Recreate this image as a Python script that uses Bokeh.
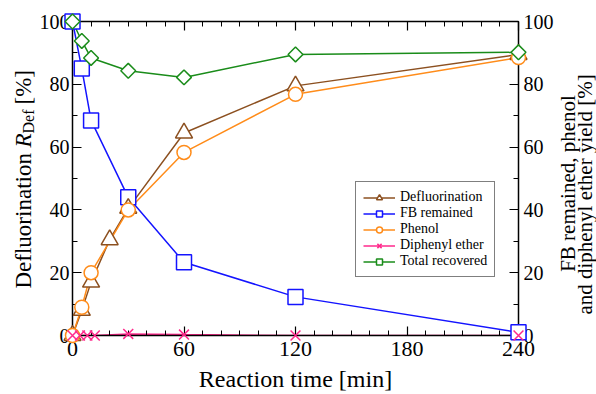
import numpy as np
from bokeh.plotting import figure
from bokeh.layouts import row
from bokeh.models import (LinearAxis, SingleIntervalTicker, Range1d, Label,
                          Legend, LegendItem, CustomJSTickFormatter)
from bokeh.embed import file_html
from bokeh.resources import INLINE

# ---------------- data ----------------
t_def = [0, 5, 10, 20, 30, 60, 120, 240]
defluorination = [0, 8, 17, 30.5, 40.5, 64.5, 79.5, 89.5]

t_main = [0, 5, 10, 30, 60, 120, 240]
fb_remained = [100, 85, 68.5, 44, 23.3, 12.3, 1]
phenol = [0, 9, 20, 40, 58.3, 76.8, 88.5]
total_recovered = [100, 93.8, 88.4, 84.3, 82.2, 89.5, 90.2]

t_dpe = [0, 4, 8, 12, 30, 60, 120, 240]
diphenyl_ether = [0, 0, 0, 0, 0.5, 0.3, 0, 0]

x_ticks_interval = 60
y_ticks_interval = 20

# ---------------- layout ----------------
H = 394
LEFT_W = 36
RIGHT_W = 40
MAIN_W = 596 - LEFT_W - RIGHT_W          # 520
FRAME_L, FRAME_R, FRAME_T, FRAME_B = 70, 519, 21, 335   # canvas pixels

FONT = "Liberation Serif"

p = figure(width=MAIN_W, height=H,
           x_range=Range1d(0, 240), y_range=Range1d(0, 100),
           x_axis_location=None, y_axis_location=None,
           toolbar_location=None, output_backend="svg",
           min_border_left=FRAME_L - LEFT_W,
           min_border_right=LEFT_W + MAIN_W - FRAME_R,
           min_border_top=FRAME_T, min_border_bottom=H - FRAME_B)
p.outline_line_color = None
p.grid.grid_line_color = None
p.background_fill_color = "white"
p.border_fill_color = "white"


def style_axis(ax, font_size, standoff):
    ax.axis_line_color = "black"
    ax.axis_line_width = 1.5
    ax.major_tick_line_color = "black"
    ax.minor_tick_line_color = "black"
    ax.major_tick_line_width = 1.2
    ax.minor_tick_line_width = 1.0
    ax.major_tick_in = 9
    ax.major_tick_out = 0
    ax.minor_tick_in = 5
    ax.minor_tick_out = 0
    ax.major_label_text_font = FONT
    ax.major_label_text_color = "black"
    ax.major_label_text_font_size = font_size
    ax.major_label_standoff = standoff


def x_ticker():
    return SingleIntervalTicker(interval=x_ticks_interval, num_minor_ticks=6)


def y_ticker():
    return SingleIntervalTicker(interval=y_ticks_interval, num_minor_ticks=2)


blank = CustomJSTickFormatter(code="return ''")

xb = LinearAxis(ticker=x_ticker())
style_axis(xb, "22px", 6)
xb.axis_label = "Reaction time [min]"
xb.axis_label_text_font = FONT
xb.axis_label_text_font_size = "24px"
xb.axis_label_text_font_style = "normal"
xb.axis_label_text_color = "black"
xb.axis_label_standoff = 7

xt = LinearAxis(ticker=x_ticker(), formatter=blank)
style_axis(xt, "8px", 0)

yl = LinearAxis(ticker=y_ticker())
style_axis(yl, "20px", 3)
yr = LinearAxis(ticker=y_ticker())
style_axis(yr, "20px", 5)

p.add_layout(xb, "below")
p.add_layout(xt, "above")
p.add_layout(yl, "left")
p.add_layout(yr, "right")

# ---------------- series ----------------
BROWN = "#8c5020"
BLUE = "#1414ff"
ORANGE = "#ff8c1a"
PINK = "#ff2a8c"
GREEN = "#1a8c1a"
LW = 1.5

l_fb = p.line(t_main, fb_remained, line_color=BLUE, line_width=LW)
s_fb = p.scatter(t_main, fb_remained, marker="square", size=15, line_color=BLUE,
                 fill_color="white", line_width=LW, level="overlay")

l_def = p.line(t_def, defluorination, line_color=BROWN, line_width=LW)
s_def = p.scatter(t_def, defluorination, marker="triangle", size=17, line_color=BROWN,
                  fill_color="white", line_width=LW, level="overlay")

l_ph = p.line(t_main, phenol, line_color=ORANGE, line_width=LW)
s_ph = p.scatter(t_main, phenol, marker="circle", size=14, line_color=ORANGE,
                 fill_color="white", line_width=LW, level="overlay")

l_dpe = p.line(t_dpe, diphenyl_ether, line_color=PINK, line_width=LW)
s_dpe = p.scatter(t_dpe, diphenyl_ether, marker="x", size=14, line_color=PINK,
                  line_width=LW, level="overlay")

l_tot = p.line(t_main, total_recovered, line_color=GREEN, line_width=LW)
s_tot = p.scatter(t_main, total_recovered, marker="square", angle=np.pi / 4, size=10.5,
                  line_color=GREEN, fill_color="white", line_width=LW, level="overlay")

# ---------------- legend ----------------
legend = Legend(items=[
    LegendItem(label="Defluorination", renderers=[l_def, s_def]),
    LegendItem(label="FB remained", renderers=[l_fb, s_fb]),
    LegendItem(label="Phenol", renderers=[l_ph, s_ph]),
    LegendItem(label="Diphenyl ether", renderers=[l_dpe, s_dpe]),
    LegendItem(label="Total recovered", renderers=[l_tot, s_tot]),
], location=(353 - FRAME_L, FRAME_B - 277))
legend.padding = 7
legend.spacing = 0
legend.margin = 0
legend.glyph_height = 15
legend.glyph_width = 32
legend.label_height = 15
legend.label_standoff = 5
legend.label_text_font = FONT
legend.label_text_font_size = "14px"
legend.label_text_color = "black"
legend.border_line_color = "black"
legend.border_line_width = 1
legend.background_fill_color = "white"
legend.background_fill_alpha = 1
p.add_layout(legend)


# ---------------- side title strips ----------------
def strip(width):
    f = figure(width=width, height=H, x_range=Range1d(0, width), y_range=Range1d(0, H),
               x_axis_location=None, y_axis_location=None,
               toolbar_location=None, output_backend="svg",
               min_border_left=0, min_border_right=0,
               min_border_top=FRAME_T, min_border_bottom=H - FRAME_B)
    f.outline_line_color = None
    f.grid.grid_line_color = None
    f.background_fill_color = "white"
    f.border_fill_color = "white"
    return f


A = np.pi / 2


def lab(fig, x0, text, cx, cy, size, align="left", style="normal"):
    # cx: canvas x of the text's middle line; cy: canvas y of its anchor
    fig.add_layout(Label(x=cx - x0, y=FRAME_B - cy, x_units="screen", y_units="screen",
                         text=text, text_font=FONT, text_font_size=size,
                         text_font_style=style, text_color="black",
                         text_align=align, text_baseline="middle", angle=A))


lf = strip(LEFT_W)
# "Defluorination R_Def [%]" reading upward
lab(lf, 0, "Defluorination", 23, 288, "23px")
lab(lf, 0, "R", 23, 147, "23px", style="italic")
lab(lf, 0, "Def", 28, 133, "16px")
lab(lf, 0, "[%]", 23, 104, "23px")

rf = strip(RIGHT_W)
RX0 = LEFT_W + MAIN_W
lab(rf, RX0, "FB remained, phenol", 567, 183, "21px", align="center")
lab(rf, RX0, "and diphenyl ether yield [%]", 584, 194, "21px", align="center")

layout = row(lf, p, rf, spacing=0)

open("out.html", "w").write(file_html(layout, INLINE))
